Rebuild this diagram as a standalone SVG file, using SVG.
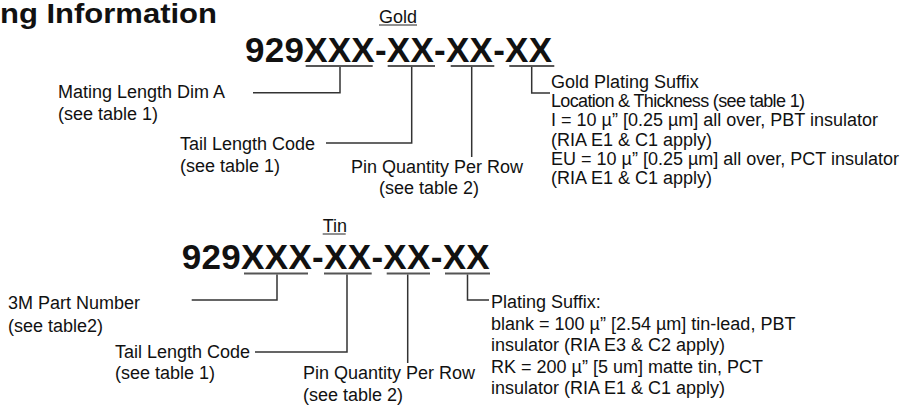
<svg xmlns="http://www.w3.org/2000/svg" width="907" height="408" viewBox="0 0 907 408">
<style>
text{font-family:"Liberation Sans",Arial,Helvetica,sans-serif;fill:#111}
.t{font-size:18px}
.b{font-weight:bold}
.pn{font-size:35px;font-weight:bold}
.ul{stroke:#555;stroke-width:2;fill:none}
.tl{stroke:#222;stroke-width:1;fill:none}
.c{stroke:#333;stroke-width:1.5;fill:none}
</style>
<rect width="907" height="408" fill="#fff"/>
<text id="title" class="b" x="0" y="22.7" font-size="28" textLength="217" lengthAdjust="spacingAndGlyphs">ng Information</text>

<g id="gold-part">
<text class="t" x="379" y="22.5">Gold</text>
<line class="tl" x1="379" y1="25" x2="417" y2="25"/>
<text class="pn" x="245" y="62" textLength="307" lengthAdjust="spacing">929XXX-XX-XX-XX</text>
<line class="ul" x1="305.7" y1="66" x2="372.7" y2="66"/>
<line class="ul" x1="387.7" y1="66" x2="435" y2="66"/>
<line class="ul" x1="450.7" y1="66" x2="494.3" y2="66"/>
<line class="ul" x1="509.3" y1="66" x2="554.3" y2="66"/>
</g>
<g id="gold-mating"><text class="t" x="58" y="97.5">Mating Length Dim A</text><text class="t" x="58" y="120">(see table 1)</text></g>
<g id="gold-tail"><text class="t" x="180" y="149.5">Tail Length Code</text><text class="t" x="180" y="172">(see table 1)</text></g>
<g id="gold-pin"><text class="t" x="351" y="173">Pin Quantity Per Row</text><text class="t" x="379" y="193.5">(see table 2)</text></g>
<g id="gold-suffix">
<text class="t" x="551" y="88">Gold Plating Suffix</text>
<text class="t" x="551" y="107.2" textLength="254" lengthAdjust="spacing">Location &amp; Thickness (see table 1)</text>
<text class="t" x="551" y="126.4">I = 10 µ” [0.25 µm] all over, PBT insulator</text>
<text class="t" x="551" y="145.6">(RIA E1 &amp; C1 apply)</text>
<text class="t" x="551" y="164.8">EU = 10 µ” [0.25 µm] all over, PCT insulator</text>
<text class="t" x="551" y="184">(RIA E1 &amp; C1 apply)</text>
</g>

<g id="tin-part">
<text class="t" x="322.7" y="231.5">Tin</text>
<line class="tl" x1="322.7" y1="234" x2="345.7" y2="234"/>
<text class="pn" x="181.7" y="269" textLength="308" lengthAdjust="spacing">929XXX-XX-XX-XX</text>
<line class="ul" x1="244" y1="273.5" x2="308" y2="273.5"/>
<line class="ul" x1="324" y1="273.5" x2="371.7" y2="273.5"/>
<line class="ul" x1="386.7" y1="273.5" x2="430" y2="273.5"/>
<line class="ul" x1="445" y1="273.5" x2="490" y2="273.5"/>
</g>
<g id="tin-part-number"><text class="t" x="8" y="309">3M Part Number</text><text class="t" x="8" y="332">(see table2)</text></g>
<g id="tin-tail"><text class="t" x="115" y="358">Tail Length Code</text><text class="t" x="115" y="378.5">(see table 1)</text></g>
<g id="tin-pin"><text class="t" x="303" y="379">Pin Quantity Per Row</text><text class="t" x="303" y="401">(see table 2)</text></g>
<g id="tin-suffix">
<text class="t" x="491" y="308">Plating Suffix:</text>
<text class="t" x="491" y="329.5">blank = 100 µ” [2.54 µm] tin-lead, PBT</text>
<text class="t" x="491" y="351">insulator (RIA E3 &amp; C2 apply)</text>
<text class="t" x="491" y="372.5">RK = 200 µ” [5 um] matte tin, PCT</text>
<text class="t" x="491" y="394">insulator (RIA E1 &amp; C1 apply)</text>
</g>

<g id="connectors">
<path class="c" d="M253 92.7H340V67"/>
<path class="c" d="M326 143H411.7V67"/>
<path class="c" d="M471.7 67V157"/>
<path class="c" d="M531.7 67V93H550"/>
<path class="c" d="M191.7 300H277V274.5"/>
<path class="c" d="M255 352H347V274.5"/>
<path class="c" d="M407.7 274.5V363"/>
<path class="c" d="M467.5 274.5V300H489"/>
</g>
</svg>
